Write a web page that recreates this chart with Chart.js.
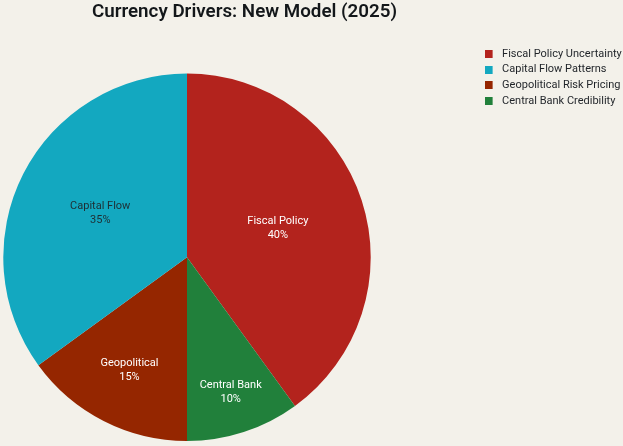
<!DOCTYPE html>
<html>
<head>
<meta charset="utf-8">
<script src="https://cdn.jsdelivr.net/npm/chart.js@4.4.1/dist/chart.umd.min.js"></script>
<style>
  html, body { margin: 0; padding: 0; background: #F3F1EA; }
  #wrap { width: 623px; height: 446px; }
</style>
</head>
<body>
<div id="wrap"><canvas id="c" width="623" height="446"></canvas></div>
<script>
// ---- data (legend order) ----
const categories = ['Fiscal Policy Uncertainty', 'Capital Flow Patterns', 'Geopolitical Risk Pricing', 'Central Bank Credibility'];
const sliceLabels = ['Fiscal Policy', 'Capital Flow', 'Geopolitical', 'Central Bank'];
const shares = [40, 35, 15, 10];
const chartTitle = 'Currency Drivers: New Model (2025)';

// ---- style ----
const colors = ['#B3231D', '#13A8C0', '#952600', '#21803B'];
const labelColors = ['#FFFFFF', '#1F2E33', '#FFFFFF', '#FFFFFF'];
const labelRadius = [0.52, 0.53, 0.69, 0.77];
// slices are drawn clockwise from the top in this order (indices into the arrays above)
const drawOrder = [0, 3, 2, 1];
const FONT = 'Roboto, "Liberation Sans", sans-serif';

function swatch(color) {
  const c = document.createElement('canvas');
  c.width = 12; c.height = 8;
  const g = c.getContext('2d');
  g.fillStyle = color;
  g.fillRect(0, 0, 8, 8);
  return c;
}

const data = {
  labels: drawOrder.map(i => categories[i]),
  datasets: [{
    data: drawOrder.map(i => shares[i]),
    backgroundColor: drawOrder.map(i => colors[i]),
    borderWidth: 0
  }]
};

const sliceLabelPlugin = {
  id: 'sliceLabels',
  afterDatasetsDraw(chart) {
    const ctx = chart.ctx;
    const meta = chart.getDatasetMeta(0);
    ctx.save();
    ctx.font = '11px ' + FONT;
    ctx.textAlign = 'center';
    ctx.textBaseline = 'middle';
    meta.data.forEach((arc, k) => {
      const i = drawOrder[k];
      const p = arc.getProps(['x', 'y', 'startAngle', 'endAngle', 'outerRadius'], true);
      const mid = (p.startAngle + p.endAngle) / 2;
      const r = p.outerRadius * labelRadius[i];
      const x = p.x + Math.cos(mid) * r;
      const y = p.y + Math.sin(mid) * r;
      ctx.fillStyle = labelColors[i];
      ctx.fillText(sliceLabels[i], x, y - 7);
      ctx.fillText(shares[i] + '%', x, y + 7);
    });
    ctx.restore();
  }
};

const layoutPlugin = {
  id: 'layoutTweak',
  beforeLayout(chart) {
    const lg = chart.legend;
    if (lg && !lg._patched) {
      const f = lg.fit;
      lg.fit = function () { f.call(this); this.width = 249; };
      lg._patched = true;
    }
  },
  beforeDraw(chart) {
    const lg = chart.legend;
    if (lg) { lg.left = 480; lg.top = 44; }
    const tb = chart.titleBlock;
    if (tb) { tb.left = 0; tb.right = 489; }
  }
};

const bgPlugin = {
  id: 'bg',
  beforeDraw(chart) {
    const ctx = chart.ctx;
    ctx.save();
    ctx.fillStyle = '#F3F1EA';
    ctx.fillRect(0, 0, chart.width, chart.height);
    ctx.restore();
  }
};

new Chart(document.getElementById('c'), {
  type: 'pie',
  data,
  plugins: [bgPlugin, layoutPlugin, sliceLabelPlugin],
  options: {
    responsive: false,
    animation: false,
    layout: { padding: { top: 0, bottom: 5, left: 0, right: 0 } },
    plugins: {
      tooltip: { enabled: false },
      title: {
        display: true,
        text: chartTitle,
        color: '#13171A',
        font: { family: FONT, size: 18.8, weight: '600', lineHeight: 1.2 },
        padding: { top: 1, bottom: 50 }
      },
      legend: {
        display: true,
        position: 'right',
        align: 'start',
        labels: {
          usePointStyle: true,
          pointStyleWidth: 12,
          boxHeight: 8,
          padding: 4.6,
          color: '#1F2328',
          font: { family: FONT, size: 11 },
          sort: (a, b) => drawOrder[a.index] - drawOrder[b.index],
          generateLabels(chart) {
            const items = Chart.overrides.pie.plugins.legend.labels.generateLabels(chart);
            items.forEach(it => { it.pointStyle = swatch(colors[drawOrder[it.index]]); });
            return items;
          }
        }
      }
    }
  }
});
</script>
</body>
</html>
